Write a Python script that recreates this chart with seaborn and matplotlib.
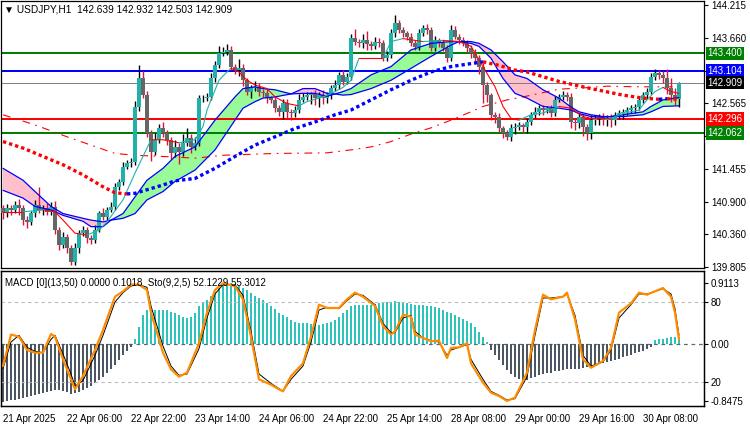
import numpy as np
import matplotlib
matplotlib.use("Agg")
import matplotlib.pyplot as plt
import matplotlib.transforms as mtransforms
import seaborn as sns

# ── data ────────────────────────────────────────────────────
open0 = 140.80
closes = [
    140.714, 140.798, 140.770, 140.853, 140.798, 140.602, 140.574, 140.714, 140.853, 140.770,
    140.798, 140.742, 140.826, 140.433, 140.181, 140.321, 140.125, 139.901, 140.125, 140.377,
    140.433, 140.293, 140.265, 140.433, 140.714, 140.658, 140.770, 140.826, 141.162, 141.246,
    141.498, 141.554, 141.582, 142.506, 142.982, 142.702, 142.058, 141.750, 141.946, 142.142,
    142.058, 141.946, 141.722, 141.834, 141.750, 141.890, 141.974, 141.834, 141.890, 142.646,
    142.646, 142.663, 142.982, 143.207, 143.403, 143.431, 143.459, 143.179, 143.123, 143.151,
    142.954, 142.758, 142.814, 142.842, 142.758, 142.730, 142.646, 142.618, 142.478, 142.422,
    142.562, 142.422, 142.394, 142.450, 142.618, 142.674, 142.702, 142.719, 142.646, 142.702,
    142.646, 142.702, 142.814, 142.870, 143.038, 142.926, 143.010, 143.655, 143.599, 143.571,
    143.627, 143.560, 143.526, 143.599, 143.571, 143.319, 143.375, 143.739, 143.907, 143.795,
    143.739, 143.683, 143.571, 143.515, 143.739, 143.823, 143.795, 143.487, 143.627, 143.571,
    143.487, 143.319, 143.795, 143.683, 143.627, 143.571, 143.487, 143.403, 143.319, 143.179,
    142.870, 142.702, 142.366, 142.338, 142.142, 142.058, 142.002, 142.142, 142.170, 142.198,
    142.170, 142.254, 142.366, 142.422, 142.478, 142.450, 142.478, 142.394, 142.618, 142.674,
    142.702, 142.674, 142.254, 142.226, 142.338, 142.170, 142.058, 142.282, 142.310, 142.338,
    142.282, 142.310, 142.282, 142.366, 142.394, 142.422, 142.450, 142.478, 142.506, 142.618,
    142.702, 142.758, 143.010, 143.067, 143.038, 142.982, 142.814, 142.702, 142.639, 142.909,
]
wick_up = [
    0.06, 0.08, 0.05, 0.07, 0.10, 0.05, 0.06, 0.04, 0.08, 0.30,
    0.05, 0.09, 0.07, 0.10, 0.05, 0.08, 0.04, 0.06, 0.09, 0.05,
    0.07, 0.05, 0.06, 0.08, 0.04, 0.09, 0.05, 0.07, 0.06, 0.04,
    0.08, 0.05, 0.06, 0.10, 0.22, 0.12, 0.06, 0.05, 0.12, 0.08,
    0.10, 0.06, 0.05, 0.12, 0.07, 0.15, 0.17, 0.08, 0.10, 0.06,
    0.05, 0.08, 0.09, 0.06, 0.12, 0.08, 0.10, 0.06, 0.05, 0.15,
    0.08, 0.04, 0.06, 0.10, 0.06, 0.05, 0.08, 0.04, 0.06, 0.05,
    0.07, 0.08, 0.05, 0.06, 0.10, 0.06, 0.05, 0.04, 0.06, 0.05,
    0.08, 0.05, 0.06, 0.09, 0.05, 0.08, 0.06, 0.08, 0.15, 0.05,
    0.10, 0.15, 0.05, 0.08, 0.06, 0.05, 0.06, 0.08, 0.14, 0.06,
    0.05, 0.04, 0.06, 0.05, 0.07, 0.06, 0.08, 0.05, 0.06, 0.04,
    0.06, 0.05, 0.08, 0.06, 0.04, 0.05, 0.06, 0.05, 0.07, 0.05,
    0.06, 0.05, 0.04, 0.05, 0.06, 0.04, 0.05, 0.08, 0.06, 0.05,
    0.04, 0.06, 0.05, 0.08, 0.06, 0.05, 0.04, 0.06, 0.07, 0.05,
    0.06, 0.05, 0.07, 0.04, 0.06, 0.05, 0.04, 0.08, 0.06, 0.05,
    0.06, 0.05, 0.07, 0.05, 0.06, 0.04, 0.05, 0.06, 0.05, 0.06,
    0.05, 0.07, 0.06, 0.08, 0.05, 0.06, 0.15, 0.18, 0.12, 0.02,
]
wick_dn = [
    0.10, 0.06, 0.08, 0.05, 0.12, 0.08, 0.10, 0.05, 0.06, 0.05,
    0.08, 0.06, 0.05, 0.06, 0.08, 0.05, 0.07, 0.05, 0.06, 0.08,
    0.05, 0.07, 0.06, 0.05, 0.04, 0.06, 0.05, 0.04, 0.05, 0.06,
    0.05, 0.04, 0.06, 0.05, 0.07, 0.05, 0.06, 0.15, 0.06, 0.05,
    0.06, 0.08, 0.10, 0.06, 0.20, 0.08, 0.05, 0.10, 0.06, 0.05,
    0.06, 0.05, 0.04, 0.06, 0.05, 0.04, 0.06, 0.05, 0.06, 0.10,
    0.10, 0.06, 0.10, 0.05, 0.08, 0.06, 0.07, 0.05, 0.06, 0.08,
    0.12, 0.10, 0.12, 0.06, 0.05, 0.04, 0.06, 0.15, 0.12, 0.15,
    0.10, 0.08, 0.06, 0.05, 0.06, 0.05, 0.04, 0.06, 0.05, 0.06,
    0.08, 0.10, 0.06, 0.05, 0.06, 0.05, 0.04, 0.05, 0.06, 0.05,
    0.06, 0.05, 0.04, 0.06, 0.05, 0.04, 0.06, 0.05, 0.04, 0.06,
    0.05, 0.06, 0.05, 0.04, 0.06, 0.05, 0.06, 0.08, 0.10, 0.12,
    0.30, 0.12, 0.08, 0.10, 0.06, 0.08, 0.05, 0.08, 0.10, 0.06,
    0.10, 0.10, 0.06, 0.05, 0.06, 0.08, 0.05, 0.06, 0.05, 0.04,
    0.06, 0.08, 0.10, 0.12, 0.08, 0.15, 0.11, 0.10, 0.08, 0.12,
    0.08, 0.10, 0.12, 0.08, 0.06, 0.10, 0.06, 0.05, 0.08, 0.06,
    0.05, 0.06, 0.04, 0.05, 0.06, 0.08, 0.10, 0.12, 0.10, 0.14,
]

# ribbon (fast / slow average), sampled bars
rib_x = [0, 5, 8, 12, 15, 20, 22, 25, 27, 30, 33, 36, 40, 43, 48, 53, 58, 60, 63, 65,
         68, 72, 75, 78, 81, 83, 85, 87, 92, 97, 102, 107, 112, 114, 117, 119, 122, 125, 128, 131,
         135, 139, 142, 144, 147, 150, 152, 155, 160, 162, 165, 169]
rib_a = [141.10, 140.97, 140.83, 140.77, 140.68, 140.58, 140.49, 140.49, 140.60, 140.71,
         140.99, 141.27, 141.47, 141.67, 141.83, 142.28, 142.67, 142.81, 142.84, 142.81,
         142.79, 142.72, 142.73, 142.73, 142.68, 142.72, 142.76, 142.81, 143.04, 143.18,
         143.46, 143.57, 143.60, 143.60, 143.57, 143.52, 143.32, 142.98, 142.73, 142.65,
         142.51, 142.48, 142.45, 142.39, 142.34, 142.33, 142.34, 142.37, 142.42, 142.51,
         142.62, 142.66]
rib_b = [141.47, 141.27, 141.08, 140.83, 140.71, 140.63, 140.60, 140.57, 140.60, 140.63,
         140.71, 140.94, 141.08, 141.25, 141.44, 141.78, 142.28, 142.48, 142.59, 142.65,
         142.67, 142.72, 142.81, 142.81, 142.73, 142.72, 142.70, 142.71, 142.81, 142.95,
         143.15, 143.35, 143.54, 143.60, 143.60, 143.57, 143.46, 143.26, 143.04, 142.98,
         142.79, 142.65, 142.50, 142.42, 142.37, 142.34, 142.34, 142.34, 142.37, 142.42,
         142.51, 142.52]

# fast average (teal rising / red falling)
fast_x = [0, 5, 10, 13, 15, 18, 21, 24, 26, 30, 33, 35, 37, 40, 44, 48, 50, 51, 54, 56,
          57, 59, 61, 63, 66, 68, 71, 74, 76, 80, 83, 85, 87, 89, 92, 95, 97, 100, 105, 110,
          114, 117, 120, 123, 125, 127, 129, 132, 135, 139, 142, 145, 147, 152, 155, 159, 161, 163, 165, 167,
          169]
fast_v = [140.74, 140.74, 140.77, 140.74, 140.60, 140.38, 140.35, 140.43, 140.57, 140.94,
          141.39, 141.67, 141.95, 141.95, 141.90, 141.95, 142.17, 142.45, 142.95, 143.09,
          143.15, 143.09, 142.95, 142.87, 142.81, 142.67, 142.56, 142.52, 142.59, 142.67,
          142.76, 142.83, 142.95, 143.32, 143.32, 143.32, 143.60, 143.65, 143.60, 143.62,
          143.60, 143.52, 143.18, 142.84, 142.51, 142.31, 142.28, 142.37, 142.40, 142.51,
          142.48, 142.34, 142.31, 142.31, 142.39, 142.45, 142.62, 142.76, 142.83, 142.76,
          142.73]

# slow dotted average (red falling / blue rising)
dot_x = [0, 5, 10, 15, 20, 25, 28, 31, 33, 36, 40, 43, 48, 53, 58, 63, 68, 73, 78, 83,
         87, 92, 97, 102, 107, 112, 117, 120, 124, 128, 131, 139, 147, 155, 160, 164, 166, 169]
dot_v = [141.92, 141.81, 141.67, 141.53, 141.36, 141.16, 141.06, 141.04, 141.05, 141.11,
         141.19, 141.26, 141.30, 141.47, 141.67, 141.86, 142.00, 142.14, 142.25, 142.37,
         142.45, 142.62, 142.79, 142.95, 143.09, 143.18, 143.23, 143.26, 143.20, 143.12,
         143.09, 142.93, 142.81, 142.70, 142.65, 142.63, 142.64, 142.63]

# long dash-dot average
dd_x = [0, 8, 16, 22, 28, 33, 43, 48, 55, 68, 81, 87, 92, 97, 103, 107, 112, 117, 120, 126,
        130, 139, 147, 151, 159, 169]
dd_v = [142.37, 142.20, 142.00, 141.86, 141.72, 141.69, 141.66, 141.64, 141.69, 141.72,
        141.73, 141.78, 141.83, 141.92, 142.07, 142.15, 142.28, 142.42, 142.51, 142.62,
        142.67, 142.80, 142.83, 142.85, 142.84, 142.84]

# horizontal levels
levels = [143.400, 143.104, 142.909, 142.296, 142.062]
level_line = ['#008000', '#0000FF', '#808080', '#FF0000', '#008000']
level_box = ['#008000', '#0000FF', '#000000', '#FF0000', '#008000']
level_lw = [2, 2, 1, 2, 2]
price_ticks = [144.215, 143.660, 143.104, 142.565, 142.010, 141.455, 140.900, 140.360, 139.805]
price_tick_labels = ['144.215', '143.660', '', '142.565', '', '141.455', '140.900', '140.360', '139.805']

# MACD histogram per bar
macd = [
    -0.86, -0.85, -0.84, -0.83, -0.82, -0.80, -0.79, -0.77, -0.76, -0.74,
    -0.73, -0.71, -0.70, -0.68, -0.69, -0.70, -0.72, -0.74, -0.73, -0.71,
    -0.68, -0.65, -0.62, -0.58, -0.53, -0.49, -0.44, -0.38, -0.31, -0.24,
    -0.17, -0.10, -0.04, 0.08, 0.26, 0.43, 0.51, 0.52, 0.51, 0.51,
    0.51, 0.51, 0.48, 0.46, 0.43, 0.41, 0.39, 0.41, 0.46, 0.56,
    0.63, 0.66, 0.71, 0.78, 0.83, 0.88, 0.91, 0.91, 0.90, 0.87,
    0.83, 0.80, 0.76, 0.72, 0.68, 0.65, 0.61, 0.57, 0.52, 0.47,
    0.43, 0.40, 0.36, 0.33, 0.32, 0.31, 0.31, 0.30, 0.28, 0.28,
    0.30, 0.31, 0.33, 0.36, 0.41, 0.46, 0.51, 0.57, 0.58, 0.58,
    0.58, 0.58, 0.58, 0.60, 0.61, 0.61, 0.62, 0.63, 0.64, 0.63,
    0.62, 0.61, 0.59, 0.58, 0.58, 0.58, 0.57, 0.56, 0.55, 0.53,
    0.51, 0.48, 0.47, 0.44, 0.41, 0.38, 0.35, 0.31, 0.26, 0.18,
    0.11, 0.03, -0.09, -0.16, -0.24, -0.31, -0.39, -0.45, -0.49, -0.52,
    -0.54, -0.54, -0.51, -0.49, -0.47, -0.45, -0.44, -0.43, -0.41, -0.40,
    -0.39, -0.38, -0.37, -0.37, -0.37, -0.36, -0.35, -0.34, -0.32, -0.30,
    -0.29, -0.27, -0.25, -0.24, -0.22, -0.20, -0.18, -0.16, -0.14, -0.12,
    -0.10, -0.08, -0.04, 0.06, 0.07, 0.08, 0.09, 0.10, 0.10, 0.10,
]

# stochastic main / signal, sampled bars
sto_x = [0, 2, 4, 6, 8, 10, 12, 13, 15, 17, 18, 20, 23, 25, 28, 30, 32, 34, 36, 37,
         40, 42, 44, 46, 49, 51, 53, 55, 58, 60, 62, 64, 67, 69, 70, 72, 75, 77, 79, 81,
         84, 86, 88, 90, 93, 95, 97, 98, 100, 102, 103, 105, 107, 109, 111, 112, 114, 116, 117, 120,
         122, 124, 126, 128, 131, 133, 135, 137, 140, 141, 143, 145, 147, 150, 152, 154, 157, 159, 161, 163,
         165, 167, 168, 169]
sto_main = [32, 55.6, 54, 44, 42, 42, 56, 54, 37, 22, 14.5, 24.5, 44, 59, 84, 88, 93, 93, 89, 72,
            42, 29.5, 24, 27, 49, 72, 89, 94, 92, 82, 54, 22, 18, 14.5, 13, 24.5, 34, 54, 78, 75.5,
            75.5, 82, 87, 84, 77, 62, 55.6, 58, 70.5, 69, 55.6, 53, 50.6, 51, 38, 45.6, 46, 49, 34, 19.5,
            12, 9.5, 5.8, 8.3, 27, 59, 85.5, 82, 84, 87, 67, 37, 30.7, 35.7, 45.6, 72, 79, 87, 85.5, 88,
            90.5, 84, 72, 52]
sto_sig = [30, 50, 55, 46, 43, 42, 52, 55, 41, 26, 17, 21, 40, 55, 80, 87, 92, 93, 91, 77,
           47, 32, 25, 26, 45, 68, 86, 93, 93, 85, 58, 26, 19, 15, 13, 22, 32, 50, 74, 76,
           75, 81, 86, 85, 78, 64, 57, 57, 68, 70, 58, 53, 51, 50, 40, 44, 46, 48, 37, 22,
           13, 10, 6.5, 7.5, 24, 55, 83, 83, 84, 86, 70, 40, 32, 35, 44, 68, 78, 86, 86, 88,
           90, 86, 75, 55]

xlab_pos = [0, 16, 32, 48, 64, 80, 96, 112, 128, 144, 160]
xlab = ['21 Apr 2025', '22 Apr 06:00', '22 Apr 22:00', '23 Apr 14:00', '24 Apr 06:00',
        '24 Apr 22:00', '25 Apr 14:00', '28 Apr 08:00', '29 Apr 00:00', '29 Apr 16:00',
        '30 Apr 08:00']

# ── style ───────────────────────────────────────────────────
sns.set_style("white")
plt.rcParams['font.family'] = ['Liberation Sans', 'DejaVu Sans']
FS = 7

W, H = 750, 430
fig = plt.figure(figsize=(7.5, 4.3), dpi=100)


def px_box(x0, y0, x1, y1):
    return [x0 / W, 1 - y1 / H, (x1 - x0) / W, (y1 - y0) / H]


ax = fig.add_axes(px_box(1, 1, 704, 268))
axm = fig.add_axes(px_box(1, 271, 704, 406))
axs = axm.twinx()

XLIM = (-0.5, 175.25)


def runs(xs, ys):
    # split a polyline into rising / falling pieces
    out, cur = [], [0]
    up = ys[1] > ys[0]
    for k in range(1, len(xs)):
        u = ys[k] > ys[k - 1]
        if u != up:
            out.append((up, cur))
            cur = [k - 1]
            up = u
        cur.append(k)
    out.append((up, cur))
    return out


# ── main panel ──────────────────────────────────────────────
c = np.array(closes)
o = np.r_[open0, c[:-1]]
hi = np.maximum(o, c) + np.array(wick_up)
lo = np.minimum(o, c) - np.array(wick_dn)
idx = np.arange(len(c))
bull = c >= o

ra, rb = np.array(rib_a), np.array(rib_b)
ax.fill_between(rib_x, ra, rb, where=ra >= rb, interpolate=True, color='#98FB98', lw=0, zorder=1)
ax.fill_between(rib_x, ra, rb, where=ra <= rb, interpolate=True, color='#FFC0CB', lw=0, zorder=1)

for v, lc, lw in zip(levels, level_line, level_lw):
    ax.axhline(v, color=lc, lw=lw * 0.72, zorder=2)

sns.lineplot(x=dd_x, y=dd_v, ax=ax, color='#FF0000', lw=0.8, zorder=2,
             dashes=False, linestyle=(0, (7, 5, 1.5, 5)))

ax.vlines(idx[bull], lo[bull], hi[bull], color='black', lw=1.0, zorder=3)
ax.vlines(idx[~bull], lo[~bull], hi[~bull], color='#DC143C', lw=1.0, zorder=3)
body = np.maximum(np.abs(c - o), 0.008)
ax.bar(idx[bull], body[bull], bottom=np.minimum(o, c)[bull], width=0.8,
       color='#20B2AA', lw=0, zorder=3.5)
ax.bar(idx[~bull], body[~bull], bottom=np.minimum(o, c)[~bull], width=0.8,
       color='#666666', lw=0, zorder=3.5)

ax.plot(rib_x, rib_a, color='#0000FF', lw=0.9, zorder=4)
ax.plot(rib_x, rib_b, color='#0000FF', lw=0.9, zorder=4)

for up, seg in runs(fast_x, fast_v):
    ax.plot([fast_x[k] for k in seg], [fast_v[k] for k in seg],
            color='#20B2AA' if up else '#FF0000', lw=0.8, zorder=4.5)

for up, seg in runs(dot_x, dot_v):
    ax.plot([dot_x[k] for k in seg], [dot_v[k] for k in seg],
            color='#0000FF' if up else '#FF0000', lw=2.4,
            linestyle=(0, (1, 0.9)), zorder=5)

ax.set_xlim(*XLIM)
ax.set_ylim(139.795, 144.282)
ax.yaxis.tick_right()
ax.set_yticks(price_ticks)
ax.set_yticklabels(price_tick_labels, fontsize=FS)
ax.tick_params(axis='y', direction='out', length=3, width=0.8, pad=2, colors='black')
ax.tick_params(axis='x', bottom=False, labelbottom=False)
ax.set_xlabel('')
ax.set_ylabel('')

trans = mtransforms.blended_transform_factory(ax.transAxes, ax.transData)
for v, bc in zip(levels, level_box):
    ax.text(1.005, v, f"{v:.3f}", transform=trans, ha='left', va='center',
            fontsize=FS, color='white', zorder=20, clip_on=False,
            bbox=dict(boxstyle='square,pad=0.18', fc=bc, ec='none'))

fig.text(4 / W, 1 - 9 / H, "\u25BC USDJPY,H1  142.639 142.932 142.503 142.909",
         fontsize=FS + 0.3, va='center', ha='left', color='black')

# ── MACD / stochastic panel ─────────────────────────────────
mv = np.array(macd)
axm.bar(idx, mv, width=0.5, color=np.where(mv >= 0, '#2EC4BC', '#4D5764'), lw=0, zorder=2)
axm.axhline(0, color='#5A6878', lw=0.9, ls=(0, (3, 3)), zorder=1)
axm.set_xlim(*XLIM)
axm.set_ylim(-0.9254, 1.0896)
axm.yaxis.tick_right()
axm.set_yticks([0.9113, 0.0, -0.8475])
axm.set_yticklabels(['0.9113', '0.00', '-0.8475'], fontsize=FS)
axm.tick_params(axis='y', direction='out', length=3, width=0.8, pad=2, colors='black')
axm.set_xticks(xlab_pos)
axm.set_xticklabels(xlab, fontsize=FS, ha='left')
axm.tick_params(axis='x', direction='out', length=4, width=0.8, pad=2, colors='black')

axs.axhline(80, color='#BBBBBB', lw=0.8, ls=(0, (3, 3)), zorder=1)
axs.axhline(20, color='#BBBBBB', lw=0.8, ls=(0, (3, 3)), zorder=1)
sns.lineplot(x=sto_x, y=sto_sig, ax=axs, color='black', lw=0.7, zorder=3)
sns.lineplot(x=sto_x, y=sto_main, ax=axs, color='#FF8C00', lw=1.6, zorder=4)
axs.set_xlim(*XLIM)
axs.set_ylim(2.0, 103.25)
axs.set_yticks([80, 20])
axs.set_yticklabels(['80', '20'], fontsize=FS)
axs.tick_params(axis='y', direction='out', length=3, width=0.8, pad=2, colors='black')
axs.set_ylabel('')

fig.text(5 / W, 1 - 283 / H, "MACD [0](13,50) 0.0000 0.1018  Sto(9,2,5) 52.1229 55.3012",
         fontsize=FS, va='center', ha='left', color='black', zorder=30)

for a in (ax, axm, axs):
    for s in a.spines.values():
        s.set_color('black')
        s.set_linewidth(0.9)

fig.savefig('out.png', dpi=100)
